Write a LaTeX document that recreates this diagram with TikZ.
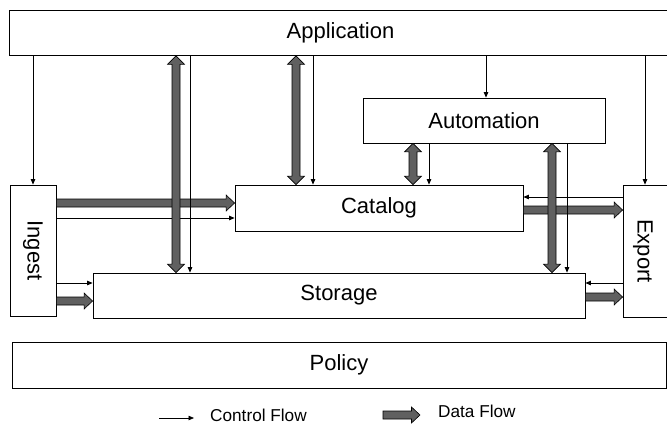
\documentclass[tikz,border=0pt]{standalone}
\usepackage{fontspec}
\setmainfont{Liberation Sans}
\usetikzlibrary{calc,arrows.meta}
\definecolor{dgray}{RGB}{96,96,96}
\begin{document}
\begin{tikzpicture}[x=1pt,y=-1pt,
  box/.style={draw=black, line width=0.8pt, fill=white, inner sep=0pt,
    font=\fontsize{22}{24}\selectfont},
  boxtext/.style={inner sep=0pt, font=\fontsize{22}{24}\selectfont},
  legtext/.style={inner sep=0pt, font=\fontsize{17.2}{20}\selectfont},
  ctrl/.style={draw=black, line width=0.7pt, -{Triangle[length=5.5pt,width=4.5pt]}},
  dataflow/.style={fill=dgray, draw=black, line width=0.6pt, line join=miter,
    to path={
      ($(\tikztostart)!4pt!90:(\tikztotarget)$)
      -- ($(\tikztotarget)!8.5pt!(\tikztostart)!4pt!-90:(\tikztostart)$)
      -- ($(\tikztotarget)!8.5pt!(\tikztostart)!8pt!-90:(\tikztostart)$)
      -- (\tikztotarget)
      -- ($(\tikztotarget)!8.5pt!(\tikztostart)!8pt!90:(\tikztostart)$)
      -- ($(\tikztotarget)!8.5pt!(\tikztostart)!4pt!90:(\tikztostart)$)
      -- ($(\tikztostart)!4pt!-90:(\tikztotarget)$)
      -- cycle}},
  ddataflow/.style={fill=dgray, draw=black, line width=0.6pt, line join=miter,
    to path={
      -- ($(\tikztostart)!8.5pt!(\tikztotarget)!8.5pt!90:(\tikztotarget)$)
      -- ($(\tikztostart)!8.5pt!(\tikztotarget)!4pt!90:(\tikztotarget)$)
      -- ($(\tikztotarget)!8.5pt!(\tikztostart)!4pt!-90:(\tikztostart)$)
      -- ($(\tikztotarget)!8.5pt!(\tikztostart)!8.5pt!-90:(\tikztostart)$)
      -- (\tikztotarget)
      -- ($(\tikztotarget)!8.5pt!(\tikztostart)!8.5pt!90:(\tikztostart)$)
      -- ($(\tikztotarget)!8.5pt!(\tikztostart)!4pt!90:(\tikztostart)$)
      -- ($(\tikztostart)!8.5pt!(\tikztotarget)!4pt!-90:(\tikztotarget)$)
      -- ($(\tikztostart)!8.5pt!(\tikztotarget)!8.5pt!-90:(\tikztotarget)$)
      -- cycle}}]
\useasboundingbox (0,0) rectangle (667,424);

% boxes
\node[box, minimum width=663pt, minimum height=45pt] (app) at (340.5,33) {Application};
\node[box, minimum width=242pt, minimum height=45pt] (auto) at (484,120.5) {Automation};
\node[box, minimum width=288pt, minimum height=46pt] (cat) at (379,208) {Catalog};
\node[box, minimum width=492pt, minimum height=45pt] (sto) at (339,295.5) {Storage};
\node[box, minimum width=654pt, minimum height=46pt] (pol) at (339,365) {Policy};
\node[box, minimum width=46pt, minimum height=131pt] (ing) at (33,250.5) {};
\node[boxtext, rotate=-90] (ingl) at (ing) {Ingest};
\node[box, minimum width=50pt, minimum height=132pt] (exp) at (648,251) {};
\node[boxtext, rotate=-90] (expl) at (643,251) {Export};

% connector end points
\coordinate (i1a) at (ing.east |- 0,203);  \coordinate (i1b) at (cat.west |- 0,203);
\coordinate (i2a) at (ing.east |- 0,301);  \coordinate (i2b) at (sto.west |- 0,301);
\coordinate (e1a) at (cat.east |- 0,210);  \coordinate (e1b) at (exp.west |- 0,210);
\coordinate (e2a) at (sto.east |- 0,297);  \coordinate (e2b) at (exp.west |- 0,297);
\coordinate (v1a) at (app.south -| 176,0); \coordinate (v1b) at (sto.north -| 176,0);
\coordinate (v2a) at (app.south -| 296,0); \coordinate (v2b) at (cat.north -| 296,0);
\coordinate (v3a) at (auto.south -| 413,0); \coordinate (v3b) at (cat.north -| 413,0);
\coordinate (v4a) at (auto.south -| 552,0); \coordinate (v4b) at (sto.north -| 552,0);

% horizontal data flows
\draw[dataflow] (i1a) to (i1b);
\draw[dataflow] (i2a) to (i2b);
\draw[dataflow] (e1a) to (e1b);
\draw[dataflow] (e2a) to (e2b);

% horizontal control flows
\draw[ctrl] (ing.east |- 0,218) -- (cat.west |- 0,218);
\draw[ctrl] (ing.east |- 0,283) -- (sto.west |- 0,283);
\draw[ctrl] (exp.west |- 0,197) -- (cat.east |- 0,197);
\draw[ctrl] (exp.west |- 0,283) -- (sto.east |- 0,283);

% vertical data flows
\draw[ddataflow] (v1a) to (v1b);
\draw[ddataflow] (v2a) to (v2b);
\draw[ddataflow] (v3a) to (v3b);
\draw[ddataflow] (v4a) to (v4b);

% vertical control flows
\draw[ctrl] (app.south -| 33,0) -- (ing.north -| 33,0);
\draw[ctrl] (app.south -| 190,0) -- (sto.north -| 190,0);
\draw[ctrl] (app.south -| 313,0) -- (cat.north -| 313,0);
\draw[ctrl] (app.south -| 486,0) -- (auto.north -| 486,0);
\draw[ctrl] (app.south -| 645,0) -- (exp.north -| 645,0);
\draw[ctrl] (auto.south -| 429,0) -- (cat.north -| 429,0);
\draw[ctrl] (auto.south -| 567,0) -- (sto.north -| 567,0);

% legend
\coordinate (lc1) at (159,418); \coordinate (lc2) at (194,418);
\coordinate (ld1) at (383,415); \coordinate (ld2) at (420,415);
\draw[ctrl] (lc1) -- (lc2);
\node[legtext, anchor=base west] (lct) at (210,421.5) {Control Flow};
\draw[dataflow] (ld1) to (ld2);
\node[legtext, anchor=base west] (ldt) at (438,417) {Data Flow};
\end{tikzpicture}
\end{document}
